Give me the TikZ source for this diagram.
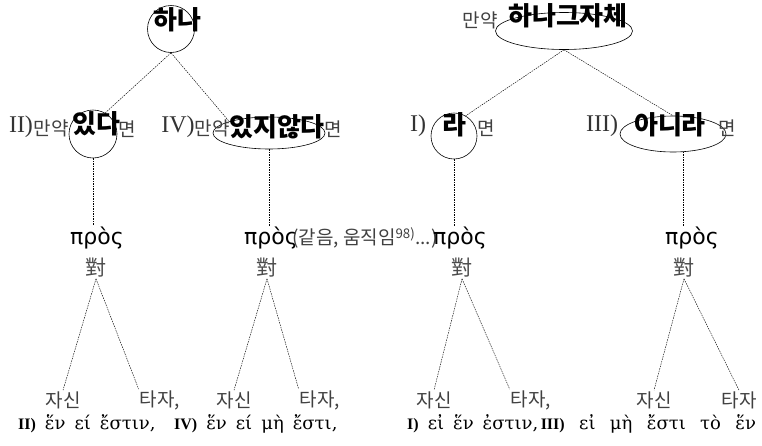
\documentclass[tikz,border=0pt]{standalone}
\usepackage{fontspec}
\setmainfont{Liberation Serif}
\newfontfamily\korfont{Noto Sans CJK KR}
\newfontfamily\grkfont{DejaVu Sans}
\newfontfamily\oldgrk{DejaVu Serif}
\usetikzlibrary{positioning,shapes.geometric}
\newcommand{\numb}[1]{{\rmfamily\bfseries\fontsize{16}{16}\selectfont #1}}
\newcommand{\grkline}{\oldgrk\fontsize{18}{18}\selectfont\setlength{\spaceskip}{0.5em}}
\newcommand{\grkwide}{\oldgrk\fontsize{18}{18}\selectfont\setlength{\spaceskip}{0.8em}}

\begin{document}
\begin{tikzpicture}[
  x=1pt, y=-1pt,
  every node/.style={inner sep=1pt},
  ringnode/.style={draw, circle, line width=0.6pt, minimum size=#1, inner sep=0pt},
  ovalnode/.style n args={2}{draw, ellipse, line width=0.6pt, minimum width=#1, minimum height=#2, inner sep=0pt},
  bigword/.style={font=\korfont\bfseries\fontsize{26}{26}\selectfont},
  smallkor/.style={font=\korfont\fontsize{19}{19}\selectfont, text=black!75},
  numeral/.style={font=\fontsize{24}{24}\selectfont, text=black!80},
  greekword/.style={font=\grkfont\fontsize{22}{22}\selectfont},
  hanja/.style={font=\korfont\fontsize{21}{21}\selectfont, text=black!70},
  phrase/.style={font=\grkline},
  widephrase/.style={font=\grkwide},
  link/.style={dash pattern=on 1.5pt off 1pt, line width=0.45pt}
]
\useasboundingbox (0,0) rectangle (762,445);

% left tree: hana
\node[ringnode=47] (hana) at (171,29) {};
\node[bigword] (hanaw) at (177,20) {하나};
\node[ringnode=48] (itda) at (93,134) {};
\node[bigword] (itdaw) at (96,124) {있다};
\node[numeral] (num2) at (21,127) {II)};
\node[smallkor] (if2) at (51,128) {만약};
\node[smallkor] (then2) at (127,129) {면};
\node[ovalnode={112}{32}] (itji) at (269,133) {};
\node[bigword] (itjiw) at (277,127) {있지않다};
\node[numeral] (num4) at (178,127) {IV)};
\node[smallkor] (if4) at (212,128) {만약};
\node[smallkor] (then4) at (333,129) {면};

% right tree: hana itself
\node[ovalnode={137}{37}] (itself) at (564,31) {};
\node[bigword] (itselfw) at (568,16) {하나그자체};
\node[smallkor] (if0) at (480,20) {만약};
\node[ringnode=46] (ra) at (454,136) {};
\node[bigword] (raw) at (454,125) {라};
\node[numeral] (num1) at (418,126) {I)};
\node[smallkor] (then1) at (486,128) {면};
\node[ovalnode={106}{36}] (anira) at (673,134) {};
\node[bigword] (aniraw) at (670,125) {아니라};
\node[numeral] (num3) at (602,126) {III)};
\node[smallkor] (then3) at (727,128) {면};

% pros / dui
\node[greekword] (pros1) at (97,238) {πρὸς};
\node[greekword] (pros2) at (271,238) {πρὸς};
\node[smallkor, anchor=west] (note) at (291,238) {(같음, 움직임\textsuperscript{98)}...)};
\node[greekword] (pros3) at (460,238) {πρὸς};
\node[greekword] (pros4) at (692,238) {πρὸς};
\node[hanja] (dui1) at (96,268) {對};
\node[hanja] (dui2) at (267,268) {對};
\node[hanja] (dui3) at (462,268) {對};
\node[hanja] (dui4) at (684,268) {對};

% self / other
\node[smallkor] (self1) at (63,400) {자신};
\node[smallkor] (other1) at (160,400) {타자,};
\node[smallkor] (self2) at (234,400) {자신};
\node[smallkor] (other2) at (320,400) {타자,};
\node[smallkor] (self3) at (434,400) {자신};
\node[smallkor] (other3) at (531,400) {타자,};
\node[smallkor] (self4) at (654,400) {자신};
\node[smallkor] (other4) at (739,400) {타자};

% greek lines
\node[phrase, anchor=west] (line2) at (17,424) {\numb{II)} ἕν εί ἔστιν,};
\node[phrase, anchor=west] (line4) at (173,424) {\numb{IV)} ἕν εί μὴ ἔστι,};
\node[phrase, anchor=west] (line1) at (406,424) {\numb{I)} εἰ ἕν ἐστιν,};
\node[widephrase, right=0pt of line1] (line3) {\numb{III)} εἰ μὴ ἔστι τὸ ἕν};

\draw[link] (hana.south) -- (itda.60);
\draw[link] (hana.south) -- (itji.north west);
\draw[link] (itself.south) -- (ra.60);
\draw[link] (itself.south) -- (anira.north);
\draw[link] (itda.south) -- (itda.south |- pros1.north);
\draw[link] (itji.south) -- (itji.south |- pros2.north);
\draw[link] (ra.south) -- (ra.south |- pros3.north);
\draw[link] (anira.-60) -- (anira.-60 |- pros4.north);
\foreach \k in {1,2,3,4} {
  \draw[link] (dui\k.south) -- (self\k.north);
}
\draw[link] (dui1.south) -- (other1.north west);
\draw[link] (dui2.south) -- (other2.north west);
\draw[link] (dui3.south) -- (other3.north west);
\draw[link] (dui4.south) -- (other4.north);
\end{tikzpicture}
\end{document}
